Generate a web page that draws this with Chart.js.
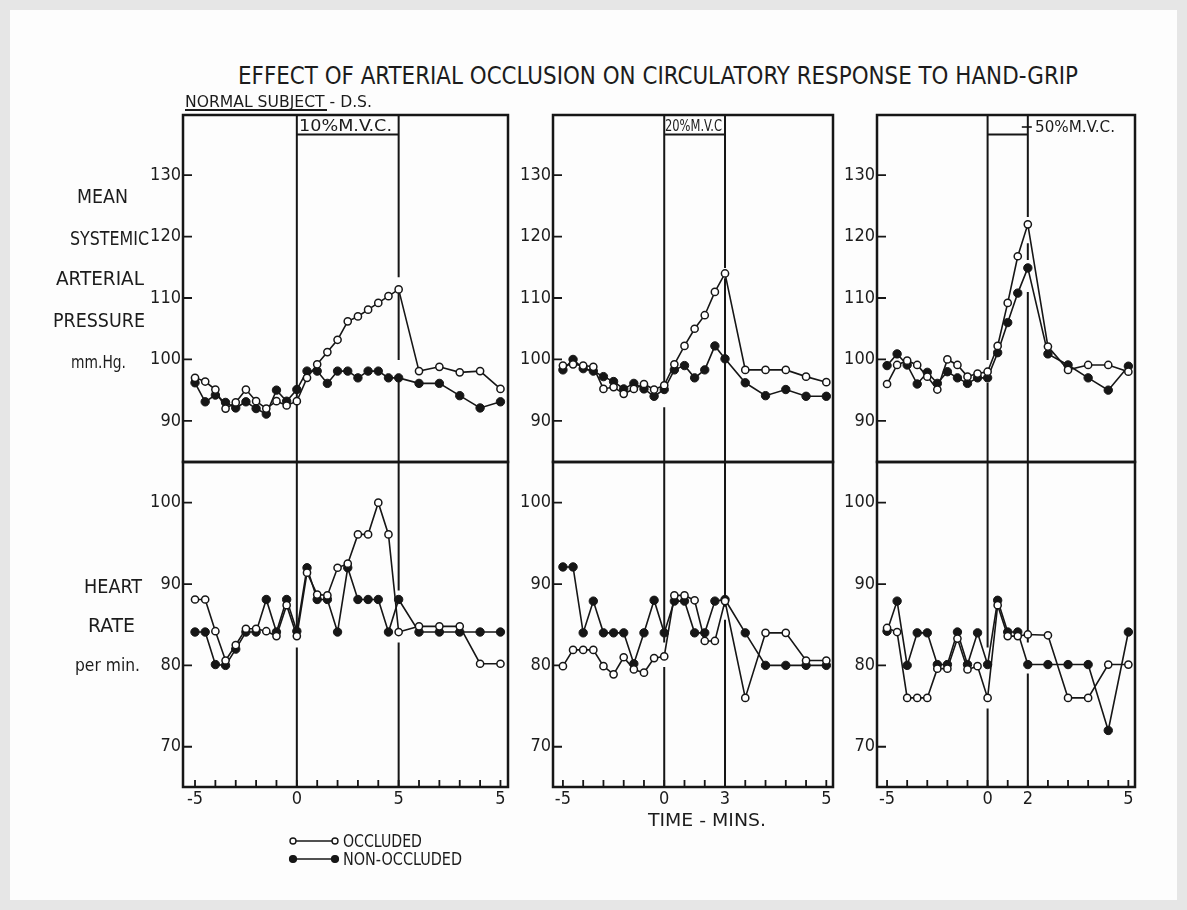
<!DOCTYPE html>
<html>
<head>
<meta charset="utf-8">
<script src="https://cdn.jsdelivr.net/npm/chart.js@4.4.1/dist/chart.umd.min.js"></script>
<style>
  html, body { margin: 0; padding: 0; }
  body {
    width: 1187px; height: 910px; position: relative; overflow: hidden;
    background: #e6e6e6;
    font-family: "Liberation Sans Narrow", "DejaVu Sans Condensed", "Arial Narrow", sans-serif;
    color: #1c1c1c;
  }
  #sheet { position: absolute; left: 10px; top: 10px; width: 1167px; height: 890px; background: #fdfdfd; }
  canvas { position: absolute; z-index: 1; }
  .lbl { position: absolute; white-space: nowrap; line-height: 1; z-index: 2; }
  .rule { position: absolute; background: #1c1c1c; z-index: 2; }
  svg { position: absolute; z-index: 2; }
</style>
</head>
<body>
<div id="sheet"></div>

<script>
// ---- time base (minutes) ----
const REST_MIN     = [-5, -4.5, -4, -3.5, -3, -2.5, -2, -1.5, -1, -0.5, 0];
const GRIP_MIN_10  = [0.5, 1, 1.5, 2, 2.5, 3, 3.5, 4, 4.5, 5];
const GRIP_MIN_20  = [0.5, 1, 1.5, 2, 2.5, 3];
const GRIP_MIN_50  = [0.5, 1, 1.5, 2];
const RECOVERY_MIN = [1, 2, 3, 4, 5];

// ---- 10% M.V.C. ----
const MAP_OCC_10 = [97.0, 96.4, 95.1, 92.0, 93.0, 95.1, 93.2, 92.0, 93.2, 92.5, 93.2,
                    97.0, 99.2, 101.2, 103.2, 106.2, 107.0, 108.1, 109.2, 110.3, 111.4,
                    98.1, 98.8, 97.9, 98.1, 95.2];
const MAP_NON_10 = [96.2, 93.1, 94.2, 93.0, 92.1, 93.1, 92.0, 91.1, 95.0, 93.2, 95.1,
                    98.1, 98.1, 96.1, 98.1, 98.1, 97.0, 98.1, 98.1, 97.0, 97.0,
                    96.1, 96.1, 94.1, 92.1, 93.1];
const HR_OCC_10  = [88.1, 88.1, 84.2, 80.6, 82.5, 84.5, 84.5, 84.2, 83.6, 87.4, 83.6,
                    91.4, 88.7, 88.6, 92.0, 92.5, 96.1, 96.1, 100.0, 96.1, 84.1,
                    84.8, 84.8, 84.8, 80.2, 80.2];
const HR_NON_10  = [84.1, 84.1, 80.1, 80.0, 82.0, 84.1, 84.1, 88.1, 84.1, 88.1, 84.2,
                    92.0, 88.1, 88.1, 84.1, 92.0, 88.1, 88.1, 88.1, 84.1, 88.1,
                    84.1, 84.1, 84.1, 84.1, 84.1];

// ---- 20% M.V.C. ----
const MAP_OCC_20 = [99.0, 99.2, 99.0, 98.8, 95.2, 95.5, 94.4, 95.2, 96.0, 95.1, 95.8,
                    99.2, 102.2, 105.0, 107.2, 111.0, 114.0,
                    98.3, 98.3, 98.3, 97.2, 96.3];
const MAP_NON_20 = [98.3, 100.0, 98.5, 98.1, 97.2, 96.4, 95.2, 96.1, 95.2, 94.0, 95.1,
                    98.3, 99.0, 97.0, 98.3, 102.2, 100.1,
                    96.2, 94.1, 95.1, 94.0, 94.0];
const HR_OCC_20  = [79.9, 81.9, 81.9, 81.9, 79.9, 78.9, 81.0, 79.5, 79.1, 80.9, 81.1,
                    88.6, 88.6, 88.0, 83.0, 83.0, 87.9,
                    76.0, 84.0, 84.0, 80.6, 80.6];
const HR_NON_20  = [92.1, 92.1, 84.0, 87.9, 84.0, 84.0, 84.0, 80.2, 84.0, 88.0, 84.0,
                    87.9, 87.9, 84.0, 84.0, 87.9, 88.1,
                    84.0, 80.0, 80.0, 80.0, 80.0];

// ---- 50% M.V.C. ----
const MAP_OCC_50 = [96.0, 99.1, 99.8, 99.1, 97.2, 95.1, 100.0, 99.1, 97.2, 97.7, 98.0,
                    102.2, 109.2, 116.8, 122.0,
                    102.1, 98.3, 99.1, 99.1, 98.0];
const MAP_NON_50 = [99.0, 100.9, 99.1, 96.0, 97.9, 96.1, 98.0, 97.0, 96.1, 97.0, 97.0,
                    101.1, 106.0, 110.8, 114.9,
                    100.9, 99.1, 97.0, 95.0, 98.9];
const HR_OCC_50  = [84.6, 84.1, 76.0, 76.0, 76.0, 79.6, 79.6, 83.3, 79.5, 79.9, 76.0,
                    87.4, 83.6, 83.6, 83.8,
                    83.7, 76.0, 76.0, 80.1, 80.1];
const HR_NON_50  = [84.2, 87.9, 80.0, 84.0, 84.0, 80.1, 80.1, 84.1, 80.1, 84.0, 80.1,
                    88.0, 84.1, 84.1, 80.1,
                    80.1, 80.1, 80.1, 72.0, 84.1];

// ---- axis ticks ----
const MAP_TICKS = [90, 100, 110, 120, 130];
const HR_TICKS  = [70, 80, 90, 100];
const X_TICKS_10 = [-5, 0, 5, 10];  const X_LABELS_10 = ['-5', '0', '5', '5'];
const X_TICKS_20 = [-5, 0, 3, 8];   const X_LABELS_20 = ['-5', '0', '3', '5'];
const X_TICKS_50 = [-5, 0, 2, 7];   const X_LABELS_50 = ['-5', '0', '2', '5'];

// breaks left in the grip-start / grip-end rules where the traces cross (y values)
const BREAKS_MAP_10 = { start: [], end: [[111.8, 113.4], [97.1, 99.9]] };
const BREAKS_HR_10  = { start: [[82.2, 84.3]], end: [[82.8, 89.2]] };
const BREAKS_MAP_20 = { start: [[92.2, 94.5]], end: [[113.2, 114.9]] };
const BREAKS_HR_20  = { start: [[79.8, 82.8]], end: [[85.6, 87.2]] };
const BREAKS_MAP_50 = { start: [[96.2, 99.9]], end: [[118.9, 123.2], [111.0, 116.2]] };
const BREAKS_HR_50  = { start: [[74.7, 82.2]], end: [[79.0, 82.8]] };

const INK = '#161616';
const FONT = '"Liberation Sans Narrow", "DejaVu Sans Condensed", "Arial Narrow", sans-serif';
Chart.defaults.font.family = FONT;
Chart.defaults.color = '#1c1c1c';

function timeline(grip) {
  const g = grip[grip.length - 1];
  return REST_MIN.concat(grip, RECOVERY_MIN.map(m => g + m));
}
function pts(times, vals) { return vals.map((v, i) => ({ x: times[i], y: v })); }

// frames (page pixels)
const TOP = 115, MID = 462, BOT = 787;
const YW = 60, PAD = 20, XH = 36;

const panelDecor = {
  id: 'panelDecor',
  beforeDatasetsDraw(chart, args, o) {
    const { ctx, chartArea: a, scales: { x, y } } = chart;
    ctx.save();
    ctx.strokeStyle = INK;
    ctx.lineCap = 'butt';
    // grip start / end rules
    ctx.lineWidth = 2;
    [[0, o.breaks.start], [o.grip, o.breaks.end]].forEach(([at, brk]) => {
      const px = x.getPixelForValue(at);
      const gaps = brk.map(([v1, v2]) => [y.getPixelForValue(Math.max(v1, v2)), y.getPixelForValue(Math.min(v1, v2))])
                      .sort((p, q) => p[0] - q[0]);
      let cur = a.top;
      ctx.beginPath();
      gaps.forEach(([p1, p2]) => { ctx.moveTo(px, cur); ctx.lineTo(px, p1); cur = p2; });
      ctx.moveTo(px, cur); ctx.lineTo(px, a.bottom);
      ctx.stroke();
    });
    // caption box under the top edge
    if (o.header) {
      const hy = a.top + 19.5;
      ctx.beginPath();
      ctx.moveTo(x.getPixelForValue(0), hy);
      ctx.lineTo(x.getPixelForValue(o.grip), hy);
      ctx.stroke();
      if (o.pointer) {
        const gx = x.getPixelForValue(o.grip);
        ctx.lineWidth = 1.6;
        ctx.beginPath();
        ctx.moveTo(gx - 6, a.top + 12); ctx.lineTo(gx + 4, a.top + 12);
        ctx.stroke();
      }
    }
    // inward tick marks
    ctx.lineWidth = 1.8;
    ctx.beginPath();
    y.ticks.forEach(t => {
      const py = y.getPixelForValue(t.value);
      ctx.moveTo(a.left, py); ctx.lineTo(a.left + 9, py);
    });
    if (o.minuteTicks) {
      for (let m = -5; m <= Math.floor(x.max); m++) {
        const px = x.getPixelForValue(m);
        ctx.moveTo(px, a.bottom); ctx.lineTo(px, a.bottom - 7);
      }
    }
    ctx.stroke();
    ctx.restore();
  },
  afterDraw(chart) {
    const { ctx, chartArea: a } = chart;
    ctx.save();
    ctx.strokeStyle = INK;
    ctx.lineWidth = 2.5;
    ctx.strokeRect(a.left, a.top, a.right - a.left, a.bottom - a.top);
    ctx.restore();
  }
};

function makePlot(o) {
  const hasX = !!o.xTicks;
  const c = document.createElement('canvas');
  const w = (o.r - o.l) + YW + PAD;
  const h = (o.b - o.t) + PAD * 2 + (hasX ? XH : 0);
  c.width = w; c.height = h;
  c.style.left = (o.l - YW) + 'px';
  c.style.top = (o.t - PAD) + 'px';
  c.style.width = w + 'px'; c.style.height = h + 'px';
  document.body.appendChild(c);

  const line = (label, data, open) => ({
    label, data,
    borderColor: INK, borderWidth: 1.6, tension: 0,
    pointRadius: open ? 3.6 : 4.2,
    pointBorderWidth: open ? 1.5 : 1,
    pointBackgroundColor: open ? '#ffffff' : INK,
    pointBorderColor: INK,
    fill: false
  });

  return new Chart(c, {
    type: 'line',
    data: { datasets: [line('OCCLUDED', o.occ, true), line('NON-OCCLUDED', o.non, false)] },
    options: {
      responsive: false, animation: false, devicePixelRatio: 1,
      layout: { padding: { left: 0, right: PAD, top: PAD, bottom: PAD } },
      plugins: {
        legend: { display: false }, tooltip: { enabled: false },
        panelDecor: { grip: o.grip, breaks: o.breaks, header: o.header, pointer: o.pointer, minuteTicks: hasX }
      },
      scales: {
        x: {
          type: 'linear', min: o.xMin, max: o.xMax, display: hasX,
          grid: { display: false, drawTicks: false }, border: { display: false },
          afterBuildTicks: s => { s.ticks = (o.xTicks || []).map(v => ({ value: v })); },
          afterFit: s => { if (hasX) s.height = XH; },
          ticks: {
            autoSkip: false, maxRotation: 0, padding: 2,
            font: { size: 18 }, color: '#1c1c1c',
            callback: (v, i) => o.xLabels[i]
          }
        },
        y: {
          type: 'linear', min: o.yMin, max: o.yMax,
          grid: { display: false, drawTicks: false }, border: { display: false },
          afterBuildTicks: s => { s.ticks = o.yTicks.map(v => ({ value: v })); },
          afterFit: s => { s.width = YW; },
          ticks: { padding: 2, font: { size: 18 }, color: '#1c1c1c', callback: v => String(v) }
        }
      }
    },
    plugins: [panelDecor]
  });
}

const PANELS = [
  { l: 183, r: 508, xMin: -5.59, xMax: 10.37, grip: 5, times: timeline(GRIP_MIN_10),
    map: [MAP_OCC_10, MAP_NON_10], hr: [HR_OCC_10, HR_NON_10], xTicks: X_TICKS_10, xLabels: X_LABELS_10,
    bMap: BREAKS_MAP_10, bHr: BREAKS_HR_10, pointer: false },
  { l: 553, r: 833, xMin: -5.49, xMax: 8.33, grip: 3, times: timeline(GRIP_MIN_20),
    map: [MAP_OCC_20, MAP_NON_20], hr: [HR_OCC_20, HR_NON_20], xTicks: X_TICKS_20, xLabels: X_LABELS_20,
    bMap: BREAKS_MAP_20, bHr: BREAKS_HR_20, pointer: false },
  { l: 877, r: 1135, xMin: -5.5, xMax: 7.33, grip: 2, times: timeline(GRIP_MIN_50),
    map: [MAP_OCC_50, MAP_NON_50], hr: [HR_OCC_50, HR_NON_50], xTicks: X_TICKS_50, xLabels: X_LABELS_50,
    bMap: BREAKS_MAP_50, bHr: BREAKS_HR_50, pointer: true }
];

PANELS.forEach(p => {
  makePlot({ l: p.l, r: p.r, t: TOP, b: MID, xMin: p.xMin, xMax: p.xMax, grip: p.grip,
             yMin: 83.3, yMax: 139.8, yTicks: MAP_TICKS,
             occ: pts(p.times, p.map[0]), non: pts(p.times, p.map[1]),
             breaks: p.bMap, header: true, pointer: p.pointer });
  makePlot({ l: p.l, r: p.r, t: MID, b: BOT, xMin: p.xMin, xMax: p.xMax, grip: p.grip,
             yMin: 65.05, yMax: 105.0, yTicks: HR_TICKS,
             occ: pts(p.times, p.hr[0]), non: pts(p.times, p.hr[1]),
             breaks: p.bHr, header: false, xTicks: p.xTicks, xLabels: p.xLabels });
});

// ---- lettering ----
function letter(txt, x0, x1, yc, size) {
  const el = document.createElement('div');
  el.className = 'lbl';
  el.textContent = txt;
  el.style.fontSize = size + 'px';
  el.style.left = x0 + 'px';
  el.style.top = yc + 'px';
  document.body.appendChild(el);
  const w = el.getBoundingClientRect().width;
  el.style.transformOrigin = '0 50%';
  el.style.transform = 'translateY(-50%) scaleX(' + ((x1 - x0) / w).toFixed(4) + ')';
  return el;
}
function rule(x0, y0, w, h) {
  const d = document.createElement('div');
  d.className = 'rule';
  Object.assign(d.style, { left: x0 + 'px', top: y0 + 'px', width: w + 'px', height: h + 'px' });
  document.body.appendChild(d);
}

letter('EFFECT OF ARTERIAL  OCCLUSION  ON  CIRCULATORY  RESPONSE  TO  HAND-GRIP', 238, 1078, 75, 25);
letter('NORMAL  SUBJECT - D.S.', 185, 372, 102, 16);
rule(185, 109, 142, 1.6);

letter('10%M.V.C.', 299, 392, 126, 15);
letter('20%M.V.C', 665, 722, 126, 15);
letter('50%M.V.C.', 1035, 1115, 127, 16);

letter('MEAN', 77, 128, 196, 19);
letter('SYSTEMIC', 70, 149, 238, 19);
letter('ARTERIAL', 56, 144, 278, 19);
letter('PRESSURE', 53, 145, 320, 19);
letter('mm.Hg.', 71, 126, 362, 17);
letter('HEART', 84, 142, 586, 19);
letter('RATE', 88, 135, 625, 19);
letter('per min.', 75, 140, 665, 17);

letter('TIME - MINS.', 648, 766, 820, 18);

// legend
const svgNS = 'http://www.w3.org/2000/svg';
const lg = document.createElementNS(svgNS, 'svg');
lg.setAttribute('width', '60'); lg.setAttribute('height', '40');
lg.style.left = '285px'; lg.style.top = '830px';
[[11, '#ffffff', 3.0], [29, INK, 3.4]].forEach(([yy, fillC, r]) => {
  const ln = document.createElementNS(svgNS, 'line');
  ln.setAttribute('x1', 8); ln.setAttribute('x2', 50); ln.setAttribute('y1', yy); ln.setAttribute('y2', yy);
  ln.setAttribute('stroke', INK); ln.setAttribute('stroke-width', 1.6);
  lg.appendChild(ln);
  [8, 50].forEach(cx => {
    const c = document.createElementNS(svgNS, 'circle');
    c.setAttribute('cx', cx); c.setAttribute('cy', yy); c.setAttribute('r', r);
    c.setAttribute('fill', fillC); c.setAttribute('stroke', INK); c.setAttribute('stroke-width', 1.4);
    lg.appendChild(c);
  });
});
document.body.appendChild(lg);
letter('OCCLUDED', 343, 422, 841, 17);
letter('NON-OCCLUDED', 343, 462, 859, 17);
</script>
</body>
</html>
